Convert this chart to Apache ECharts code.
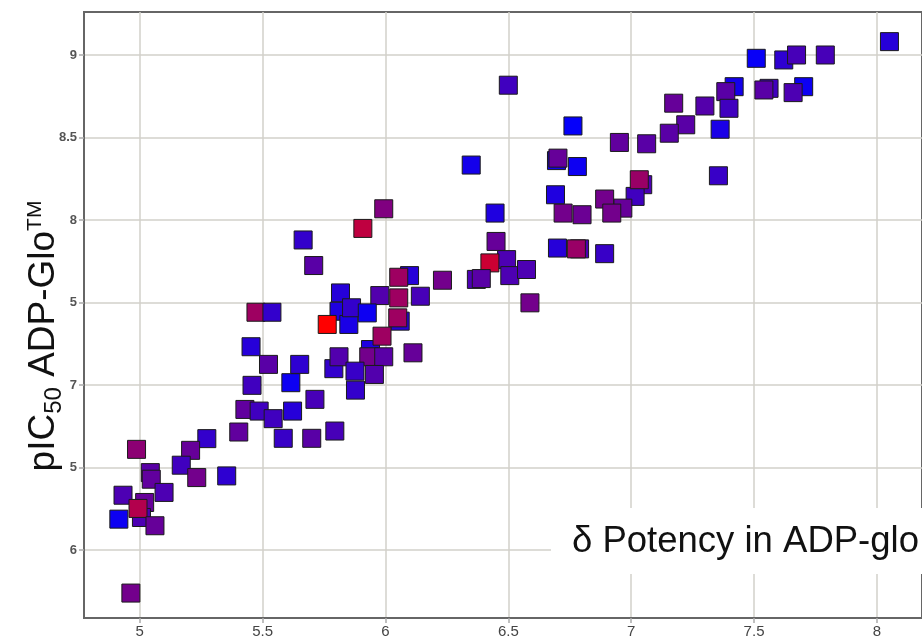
<!DOCTYPE html>
<html>
<head>
<meta charset="utf-8">
<title>pIC50 ADP-Glo scatter</title>
<script src="https://cdn.jsdelivr.net/npm/echarts@6/dist/echarts.min.js"></script>
<style>
  html, body { margin: 0; padding: 0; background: #fff; }
  #chart { width: 922px; height: 642px; }
</style>
</head>
<body>
<div id="chart"></div>
<script>
// Reference-assay potency (x), ADP-Glo pIC50 (y) and shade value (0 = blue, 1 = red)
const xValues = [
  8.051, 7.79, 7.621, 7.673, 7.509, 7.702, 7.659, 7.561, 7.54, 7.419,
  7.385, 7.398, 7.362, 7.355, 7.30, 7.173, 7.222, 7.155, 7.063, 6.952,
  7.047, 7.016, 7.033, 6.966, 6.892, 6.921, 6.892, 6.79, 6.777, 6.70,
  6.80, 6.723, 6.692, 6.696, 6.702, 6.781, 6.763, 6.50, 6.349, 6.446,
  6.45, 6.493, 6.425, 6.506, 6.574, 6.588, 6.37, 6.39, 6.232, 6.098,
  6.054, 5.993, 5.908, 5.665, 5.708, 6.142, 5.977, 6.054, 6.06, 6.05,
  5.817, 5.811, 5.851, 5.862, 5.926, 5.763, 5.473, 5.538, 5.939, 5.986,
  5.932, 5.993, 5.955, 6.112, 5.79, 5.811, 5.876, 5.878, 5.453, 5.524,
  5.651, 5.615, 5.457, 5.713, 5.428, 5.486, 5.543, 5.622, 5.403, 5.584,
  5.70, 5.794, 5.273, 5.207, 5.169, 5.232, 5.354, 4.987, 5.043, 5.047,
  5.099, 4.932, 5.02, 5.007, 4.915, 4.993, 5.062, 4.964
];
const yValues = [
  9.081, 9.00, 8.97, 9.00, 8.98, 8.808, 8.772, 8.798, 8.788, 8.808,
  8.778, 8.677, 8.55, 8.268, 8.691, 8.708, 8.577, 8.526, 8.462, 8.470,
  8.214, 8.143, 8.244, 8.072, 8.127, 8.042, 7.796, 7.825, 7.825, 7.83,
  8.032, 8.042, 8.153, 8.36, 8.375, 8.324, 8.570, 8.817, 8.333, 8.042,
  7.87, 7.76, 7.74, 7.663, 7.70, 7.498, 7.64, 7.645, 7.635, 7.663,
  7.653, 8.068, 7.949, 7.879, 7.724, 7.538, 7.542, 7.528, 7.387, 7.407,
  7.558, 7.447, 7.367, 7.468, 7.437, 7.367, 7.441, 7.441, 7.215, 7.296,
  7.171, 7.171, 7.064, 7.195, 7.099, 7.171, 7.084, 6.969, 7.232, 7.125,
  7.125, 7.014, 6.998, 6.913, 6.852, 6.842, 6.796, 6.842, 6.715, 6.677,
  6.677, 6.721, 6.675, 6.604, 6.514, 6.439, 6.449, 6.61, 6.469, 6.429,
  6.349, 6.332, 6.288, 6.197, 6.187, 6.252, 6.147, 5.739
];
const shadeValues = [
  0.15, 0.28, 0.18, 0.28, 0.03, 0.05, 0.30, 0.25, 0.35, 0.08,
  0.35, 0.25, 0.10, 0.22, 0.33, 0.40, 0.35, 0.35, 0.35, 0.38,
  0.30, 0.25, 0.60, 0.40, 0.45, 0.45, 0.22, 0.30, 0.60, 0.15,
  0.42, 0.45, 0.12, 0.08, 0.40, 0.05, 0.02, 0.25, 0.08, 0.12,
  0.40, 0.30, 0.80, 0.30, 0.30, 0.45, 0.30, 0.35, 0.45, 0.15,
  0.62, 0.50, 0.75, 0.20, 0.35, 0.28, 0.32, 0.62, 0.15, 0.62,
  0.15, 0.12, 0.10, 0.20, 0.05, 1.00, 0.62, 0.20, 0.12, 0.62,
  0.45, 0.35, 0.32, 0.40, 0.20, 0.32, 0.22, 0.20, 0.15, 0.35,
  0.18, 0.05, 0.25, 0.28, 0.38, 0.25, 0.25, 0.15, 0.38, 0.22,
  0.35, 0.28, 0.20, 0.40, 0.25, 0.45, 0.18, 0.55, 0.35, 0.38,
  0.30, 0.30, 0.40, 0.30, 0.05, 0.70, 0.40, 0.45
];

// Tick positions and the text printed at them
const xTickValues = [5, 5.5, 6, 6.5, 7, 7.5, 8];
const xTickLabels = ['5', '5.5', '6', '6.5', '7', '7.5', '8'];
const yTickValues = [6, 6.5, 7, 7.5, 8, 8.5, 9];
const yTickLabels = ['6', '5', '7', '5', '8', '8.5', '9'];

const points = xValues.map((x, i) => [x, yValues[i], shadeValues[i]]);

function lookup(values, labels) {
  return function (v) {
    for (let i = 0; i < values.length; i++) {
      if (Math.abs(values[i] - v) < 1e-6) return labels[i];
    }
    return '';
  };
}

const gridColor = '#d2d0ca';
const chart = echarts.init(document.getElementById('chart'), null, { renderer: 'canvas' });

chart.setOption({
  animation: false,
  backgroundColor: '#ffffff',
  grid: {
    left: 84, top: 12, right: -4, bottom: 24,
    show: true, borderColor: '#666', borderWidth: 2, backgroundColor: 'transparent'
  },
  xAxis: {
    type: 'value',
    min: 4.7732, max: 8.1835,
    axisLine: { show: true, lineStyle: { color: '#666', width: 2 } },
    axisTick: { show: true, length: 5, customValues: xTickValues, lineStyle: { color: '#aaa', width: 1.5 } },
    axisLabel: {
      customValues: xTickValues,
      formatter: lookup(xTickValues, xTickLabels),
      margin: 6,
      color: '#444',
      fontSize: 15,
      fontFamily: '"Liberation Sans Narrow", "Liberation Sans", Arial, sans-serif'
    },
    splitLine: { show: true, lineStyle: { color: gridColor, width: 1.5 } }
  },
  yAxis: {
    type: 'value',
    min: 5.5879, max: 9.2606,
    axisLine: { show: true, lineStyle: { color: '#666', width: 2 } },
    axisTick: { show: true, length: 5, customValues: yTickValues, lineStyle: { color: '#aaa', width: 1.5 } },
    axisLabel: {
      customValues: yTickValues,
      formatter: lookup(yTickValues, yTickLabels),
      margin: 7,
      color: '#555',
      fontSize: 13,
      fontWeight: 'bold',
      fontFamily: '"Liberation Sans", Arial, sans-serif'
    },
    splitLine: { show: true, lineStyle: { color: gridColor, width: 1.5 } }
  },
  visualMap: {
    show: false,
    type: 'continuous',
    dimension: 2,
    min: 0, max: 1,
    inRange: { color: ['#0000ff', '#ff0000'] }
  },
  series: [{
    type: 'scatter',
    symbol: 'rect',
    symbolSize: 18,
    data: points,
    itemStyle: { borderColor: '#1a1a1a', borderWidth: 1, opacity: 1 },
    emphasis: { disabled: true }
  }],
  graphic: [
    {
      type: 'rect', z: 100,
      shape: { x: 551, y: 508, width: 380, height: 66 },
      style: { fill: '#ffffff' }
    },
    {
      type: 'text', z: 101,
      x: 572, y: 542,
      style: {
        text: 'δ Potency in ADP-glo',
        font: '36.5px "Liberation Sans", Arial, sans-serif',
        fill: '#111',
        align: 'left',
        verticalAlign: 'middle'
      }
    },
    {
      type: 'text', z: 101,
      x: 44, y: 336,
      rotation: Math.PI / 2,
      style: {
        text: '{a|pIC}{sub|50}{a| ADP-Glo}{sup|TM}',
        align: 'center',
        verticalAlign: 'middle',
        fill: '#111',
        rich: {
          a: { fontSize: 37, fontFamily: '"Liberation Sans", Arial, sans-serif', fill: '#111' },
          sub: { fontSize: 24, fontFamily: '"Liberation Sans", Arial, sans-serif', fill: '#111', padding: [20, 0, 0, 0] },
          sup: { fontSize: 21, fontFamily: '"Liberation Sans", Arial, sans-serif', fill: '#111', padding: [0, 0, 18, 0] }
        }
      }
    }
  ]
});
</script>
</body>
</html>
